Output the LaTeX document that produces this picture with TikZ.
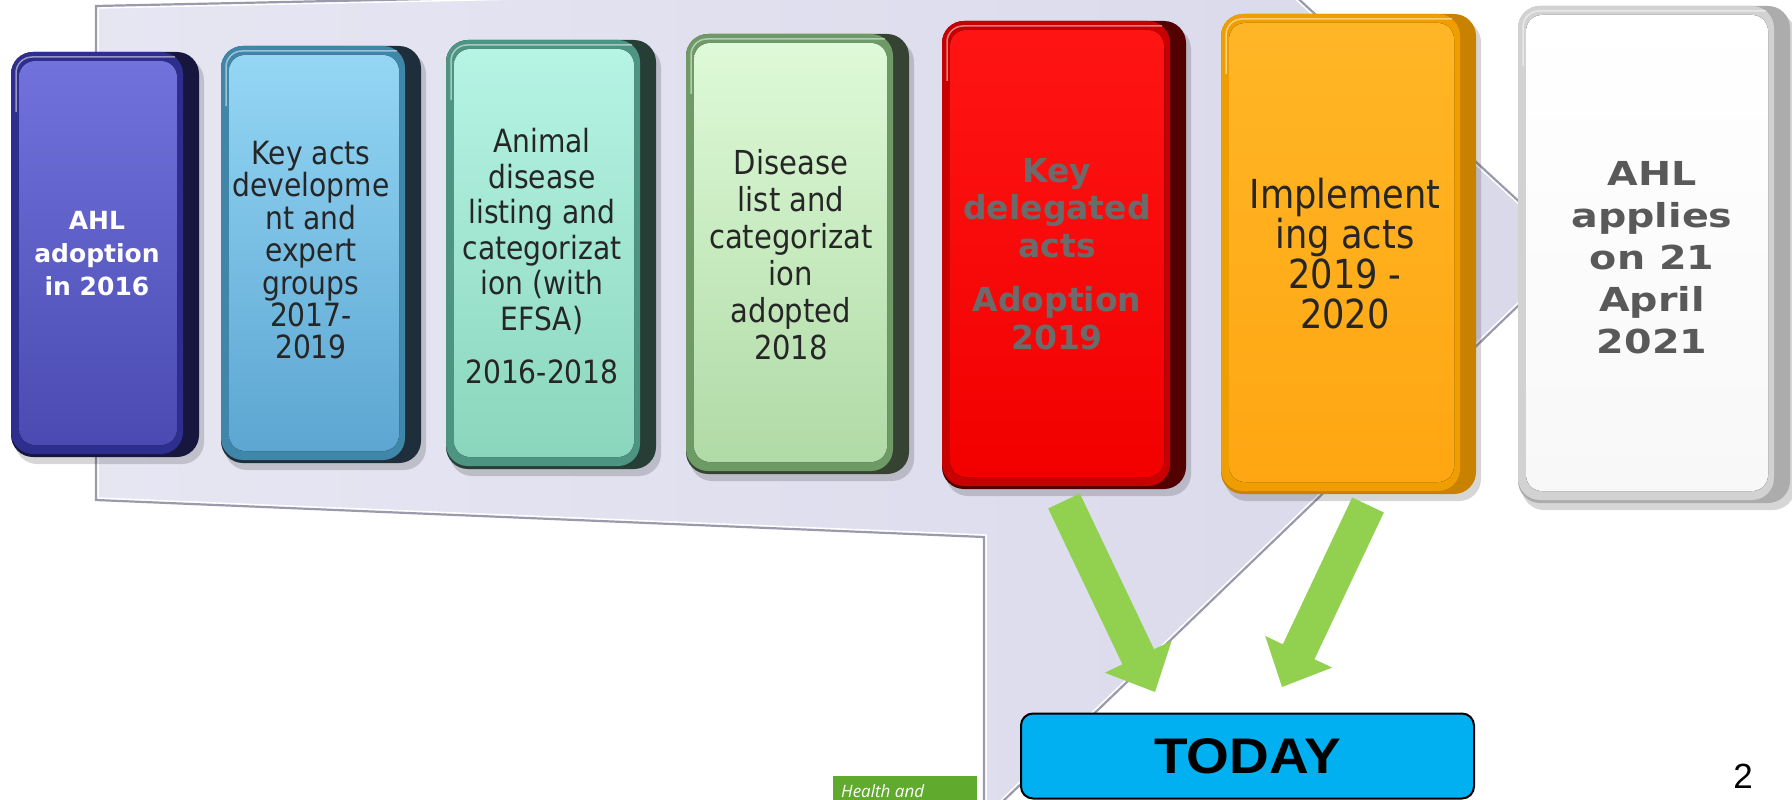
\documentclass[tikz,border=0pt]{standalone}
\usepackage{fontspec}
\setmainfont{DejaVu Sans}
\newfontfamily\tahfont[FakeStretch=0.88]{DejaVu Sans}
\newfontfamily\verfont{DejaVu Sans}
\newfontfamily\widefont[FakeStretch=1.2]{DejaVu Sans}
\newfontfamily\arfont[FakeStretch=1.1]{Liberation Sans}
\newfontfamily\arplain{Liberation Sans}
\newfontfamily\osfont{Open Sans}
\usetikzlibrary{calc}

\definecolor{panelL}{HTML}{E6E6F3}
\definecolor{panelR}{HTML}{D8D8EA}
\definecolor{panelEdge}{HTML}{9A9AAC}
\definecolor{arrowgreen}{HTML}{92D050}
\definecolor{todaycyan}{HTML}{00B0F0}
\definecolor{healthgreen}{HTML}{60AA2E}
% box 1 purple
\definecolor{bAdark}{HTML}{16163E}
\definecolor{bArim}{HTML}{2E2E8E}
\definecolor{bAtop}{HTML}{7272DC}
\definecolor{bAbot}{HTML}{4A4AB2}
% box 2 light blue
\definecolor{bBdark}{HTML}{1E2E3A}
\definecolor{bBrim}{HTML}{3F86A8}
\definecolor{bBtop}{HTML}{94D6F4}
\definecolor{bBbot}{HTML}{5CA6D2}
% box 3 aqua
\definecolor{bCdark}{HTML}{263E36}
\definecolor{bCrim}{HTML}{4E9482}
\definecolor{bCtop}{HTML}{B6F4E4}
\definecolor{bCbot}{HTML}{8AD6BC}
% box 4 light green
\definecolor{bDdark}{HTML}{364232}
\definecolor{bDrim}{HTML}{6E9A66}
\definecolor{bDtop}{HTML}{DEFAD8}
\definecolor{bDbot}{HTML}{B0DAA6}
% box 5 red
\definecolor{bEdark}{HTML}{520000}
\definecolor{bErim}{HTML}{C80000}
\definecolor{bEtop}{HTML}{FF1414}
\definecolor{bEbot}{HTML}{F20000}
% box 6 orange
\definecolor{bFdark}{HTML}{C88200}
\definecolor{bFrim}{HTML}{EE9E00}
\definecolor{bFtop}{HTML}{FFB626}
\definecolor{bFbot}{HTML}{FFA612}
% box 7 white
\definecolor{bGdark}{HTML}{ACACAC}
\definecolor{bGrim}{HTML}{D2D2D2}
\definecolor{bGtop}{HTML}{FFFFFF}
\definecolor{bGbot}{HTML}{F8F8F8}

\definecolor{darktxt}{HTML}{262626}
\definecolor{redtxt}{HTML}{6B6B6B}
\definecolor{graytxt}{HTML}{595959}

% x0 y0 x1 y1 colour-prefix
\newcommand\bevelbox[5]{%
  \fill[black,opacity=0.16,rounded corners=22pt] (#1+4,#2+6) rectangle (#3+5,#4+7);
  \fill[#5dark,rounded corners=22pt] (#1,#2) rectangle (#3,#4);
  \fill[#5rim,rounded corners=22pt] (#1,#2) rectangle (#3-16,#4-3);
  \fill[top color=#5top,bottom color=#5bot,rounded corners=16pt] (#1+8,#2+9) rectangle (#3-22,#4-12);
  \draw[white,opacity=0.5,line width=1.5pt,rounded corners=16pt] (#1+5,#2+60) -- (#1+5,#2+5) -- (#3-24,#2+5);
}
% block arrow from #1 to #2
\newcommand\blockarrow[2]{%
  \coordinate (#1h) at ($(#2)!39pt!(#1)$);
  \fill[arrowgreen] ($(#1)!17.5pt!90:(#2)$) -- ($(#1h)!17.5pt!90:(#2)$) -- ($(#1h)!37pt!90:(#2)$)
    -- (#2) -- ($(#1h)!37pt!-90:(#2)$) -- ($(#1h)!17.5pt!-90:(#2)$) -- ($(#1)!17.5pt!-90:(#2)$) -- cycle;
}

\tikzset{
  txt/.style={align=center,inner sep=0pt,anchor=north},
  regtxt/.style={txt,text=darktxt},
}

\begin{document}
\begin{tikzpicture}[x=1pt,y=-1pt]
\useasboundingbox (0,0) rectangle (1792,800);
\fill[white] (0,0) rectangle (1792,800);

% lavender bent arrow panel
\coordinate (pA) at (96,6);
\coordinate (pB) at (1279,-19);
\coordinate (pTip) at (1574,252);
\coordinate (pC) at (998,806);
\coordinate (pD) at (984,806);
\coordinate (pE) at (984,537);
\coordinate (pF) at (96,500);
\fill[left color=panelL,right color=panelR] (pA) -- (pB) -- (pTip) -- (pC) -- (pD) -- (pE) -- (pF) -- cycle;
\draw[white,line width=5.5pt,line join=miter] (pA) -- (pB) -- (pTip) -- (pC) -- (pD) -- (pE) -- (pF) -- cycle;
\draw[panelEdge,line width=2.2pt,line join=miter] (pA) -- (pB) -- (pTip) -- (pC) -- (pD) -- (pE) -- (pF) -- cycle;

% boxes
\bevelbox{11}{52}{199}{457}{bA}
\bevelbox{221}{46}{421}{463}{bB}
\bevelbox{446}{40}{656}{469}{bC}
\bevelbox{686}{34}{909}{474}{bD}
\bevelbox{942}{21}{1186}{489}{bE}
\bevelbox{1221}{14}{1476}{494}{bF}
\bevelbox{1518}{6}{1790}{503}{bG}

% box texts
\node[txt,text=white,font=\verfont\bfseries\fontsize{25}{33}\selectfont] (t1) at (97,211) {AHL\\adoption\\in 2016};
\node[regtxt,font=\tahfont\fontsize{32}{32.4}\selectfont] (t2) at (311,141) {Key acts\\developme\\nt and\\expert\\groups\\2017-\\2019};
\node[regtxt,font=\tahfont\fontsize{32}{35.5}\selectfont] (t3) at (542,128) {Animal\\disease\\listing and\\categorizat\\ion (with\\EFSA)\\[18pt]2016-2018};
\node[regtxt,font=\tahfont\fontsize{33}{37}\selectfont] (t4) at (791,149) {Disease\\list and\\categorizat\\ion\\adopted\\2018};
\node[txt,text=redtxt,font=\verfont\bfseries\fontsize{33}{37.5}\selectfont] (t5) at (1057,158) {Key\\delegated\\acts\\[17pt]Adoption\\2019};
\node[regtxt,font=\tahfont\fontsize{40}{40}\selectfont] (t6) at (1345,178) {Implement\\ing acts\\2019 -\\2020};
\node[txt,text=graytxt,font=\widefont\bfseries\fontsize{33}{42}\selectfont] (t7) at (1652,161) {AHL\\applies\\on 21\\April\\2021};

% green arrows
\coordinate (ga1s) at (1064,501);
\coordinate (ga1e) at (1155,692);
\coordinate (ga2s) at (1368,505);
\coordinate (ga2e) at (1282,687);
\blockarrow{ga1s}{ga1e}
\blockarrow{ga2s}{ga2e}

% TODAY
\node[draw=black,line width=2pt,fill=todaycyan,rounded corners=12pt,minimum width=453pt,minimum height=85pt,inner sep=0pt,
      font=\arfont\bfseries\fontsize{50}{50}\selectfont] (today) at (1247.5,756) {TODAY};

% footer
\fill[healthgreen] (833,776) rectangle (977,806);
\node[anchor=base west,inner sep=0pt,text=white,font=\osfont\itshape\fontsize{17}{17}\selectfont] (health) at (841,797) {Health and};
\node[inner sep=0pt,font=\arplain\fontsize{35}{35}\selectfont] (pnum) at (1743,776) {2};
\end{tikzpicture}
\end{document}
